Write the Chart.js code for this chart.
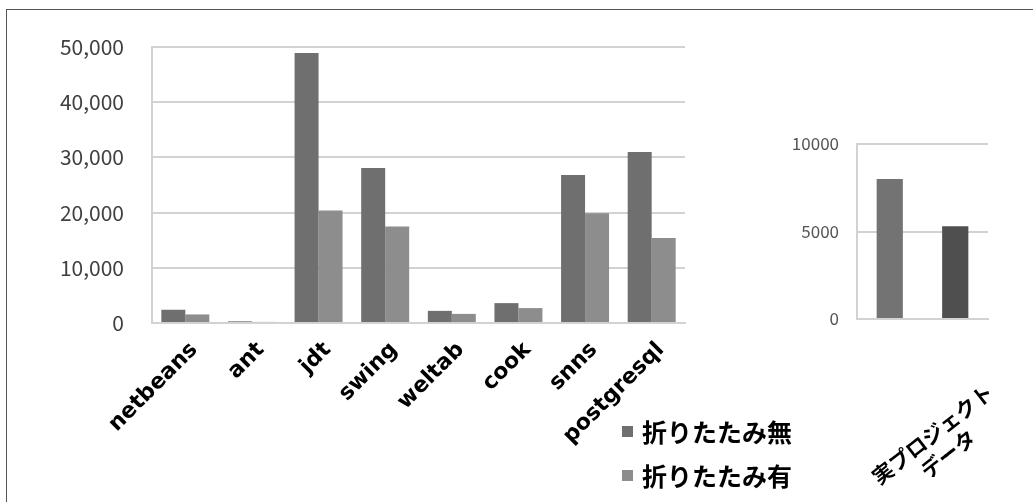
<!DOCTYPE html>
<html>
<head>
<meta charset="utf-8">
<script src="https://cdn.jsdelivr.net/npm/chart.js@4/dist/chart.umd.min.js"></script>
<style>
  html, body { margin: 0; padding: 0; background: #fff; overflow: hidden; }
  body { width: 1033px; height: 502px; position: relative; }
  .frame { position: absolute; left: 6px; top: 9px; width: 1100px; height: 600px; border: 1px solid #555; }
  #main-wrap { position: absolute; left: 0; top: 0; width: 720px; height: 502px; }
  #sub-wrap { position: absolute; left: 760px; top: 0; width: 273px; height: 502px; }
  .legend { position: absolute; left: 622px; top: 409px; font-family: "Noto Sans CJK JP", sans-serif; font-weight: 700; font-size: 25px; color: #000; }
  .legend-row { display: flex; align-items: center; height: 44px; }
  .legend-sw { width: 11px; height: 11px; margin-right: 9px; }
</style>
</head>
<body>
<div class="frame"></div>
<div id="main-wrap"><canvas id="mainChart" width="720" height="502"></canvas></div>
<div id="sub-wrap"><canvas id="subChart" width="273" height="502"></canvas></div>
<div class="legend" id="legend"></div>
<script>
/* data */
const projects = ['netbeans', 'ant', 'jdt', 'swing', 'weltab', 'cook', 'snns', 'postgresql'];
const noFold   = [2400, 300, 48900, 28100, 2200, 3600, 26800, 31000];
const withFold = [1550, 200, 20400, 17500, 1650, 2700, 19900, 15400];
const seriesNames = ['折りたたみ無', '折りたたみ有'];
const yTicksMain = [0, 10000, 20000, 30000, 40000, 50000];

const realLabel = [['実プロジェクト', 'データ\u3000\u3000']];
const realNoFold   = [8000];
const realWithFold = [5300];
const yTicksSub = [0, 5000, 10000];

const C_DARK = '#6f6f6f', C_LIGHT = '#8d8d8d';
const C_SUB1 = '#737373', C_SUB2 = '#4f4f4f';
const GRID = '#d2d2d2';
const LATIN = '"DejaVu Sans", "Noto Sans CJK JP", sans-serif';
const JP = '"Noto Sans CJK JP", sans-serif';

// keep the plot area fixed: rotated labels must not push it inwards
const noPad = s => { s.paddingLeft = 0; s.paddingRight = 0; };

/* ── MAIN CHART ── */
new Chart(document.getElementById('mainChart'), {
  type: 'bar',
  data: {
    labels: projects,
    datasets: [
      { label: seriesNames[0], data: noFold, backgroundColor: C_DARK },
      { label: seriesNames[1], data: withFold, backgroundColor: C_LIGHT }
    ]
  },
  options: {
    responsive: false,
    animation: false,
    layout: { padding: { top: 47, right: 35, left: 0, bottom: 0 } },
    datasets: { bar: { categoryPercentage: 0.72, barPercentage: 1.0 } },
    plugins: { legend: { display: false }, tooltip: { enabled: false } },
    scales: {
      x: {
        grid: { display: false },
        border: { display: true, color: GRID, width: 2 },
        ticks: {
          minRotation: 45, maxRotation: 45, autoSkip: false,
          padding: 6, labelOffset: 9,
          color: '#000', font: { family: LATIN, size: 22, weight: 'bold' }
        },
        afterFit: s => { s.height = 179; noPad(s); }
      },
      y: {
        min: 0, max: 50000,
        afterBuildTicks: s => { s.ticks = yTicksMain.map(v => ({ value: v })); },
        grid: { color: GRID, lineWidth: 2, drawTicks: false },
        border: { display: true, color: GRID, width: 2 },
        ticks: {
          padding: 28, color: '#404040',
          font: { family: JP, size: 21 },
          callback: v => v.toLocaleString('en-US')
        },
        afterFit: s => { s.width = 152; }
      }
    }
  }
});

/* ── SUB CHART ── */
new Chart(document.getElementById('subChart'), {
  type: 'bar',
  data: {
    labels: realLabel,
    datasets: [
      { label: seriesNames[0], data: realNoFold, backgroundColor: C_SUB1 },
      { label: seriesNames[1], data: realWithFold, backgroundColor: C_SUB2 }
    ]
  },
  options: {
    responsive: false,
    animation: false,
    layout: { padding: { top: 144, right: 45, left: 0, bottom: 0 } },
    datasets: { bar: { categoryPercentage: 1.0, barPercentage: 0.4 } },
    plugins: { legend: { display: false }, tooltip: { enabled: false } },
    scales: {
      x: {
        grid: { display: false },
        border: { display: true, color: GRID, width: 2 },
        ticks: {
          minRotation: 38, maxRotation: 38, autoSkip: false,
          padding: 52, labelOffset: 68,
          color: '#000', font: { family: JP, size: 21, weight: 'bold' }
        },
        afterFit: s => { s.height = 183; noPad(s); }
      },
      y: {
        min: 0, max: 10000,
        afterBuildTicks: s => { s.ticks = yTicksSub.map(v => ({ value: v })); },
        grid: { color: GRID, lineWidth: 2, drawTicks: false },
        border: { display: true, color: GRID, width: 2 },
        ticks: {
          padding: 18, color: '#555555',
          font: { family: JP, size: 17 },
          callback: v => String(v)
        },
        afterFit: s => { s.width = 97; }
      }
    }
  }
});

/* ── LEGEND ── */
const legendColors = [C_DARK, C_LIGHT];
document.getElementById('legend').innerHTML = seriesNames.map((n, i) =>
  `<div class="legend-row"><span class="legend-sw" style="background:${legendColors[i]}"></span>${n}</div>`
).join('');
</script>
</body>
</html>
